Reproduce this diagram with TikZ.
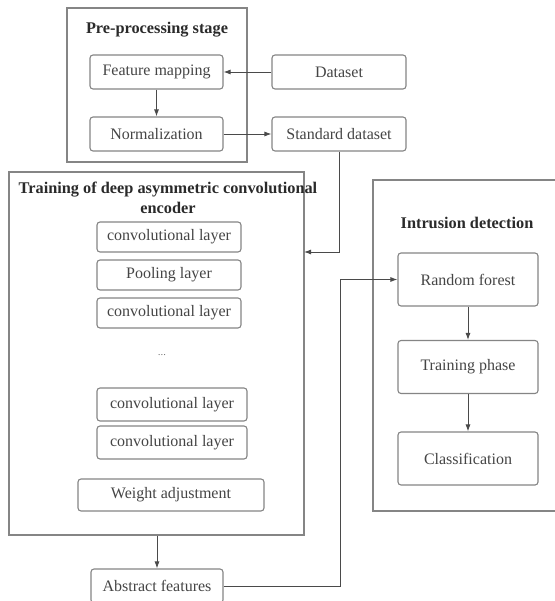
\documentclass[tikz,border=0pt]{standalone}
\usepackage{fontspec}
\setmainfont{Liberation Serif}
\usetikzlibrary{arrows.meta}
\definecolor{linegray}{HTML}{858585}
\definecolor{txtgray}{HTML}{454545}
\definecolor{ttlgray}{HTML}{2A2A2A}
\definecolor{arrgray}{HTML}{4A4A4A}
\begin{document}
\begin{tikzpicture}[x=1pt,y=-1pt,
  box/.style={draw=linegray, line width=1.1pt, rounded corners=3pt, inner sep=0pt,
    text=txtgray, font=\fontsize{16}{19}\selectfont},
  frame/.style={draw=linegray, line width=1.1pt, inner sep=0pt},
  ttl/.style={font=\fontsize{16.3}{20}\selectfont\bfseries, text=ttlgray, inner sep=0pt, align=center},
  conn/.style={draw=arrgray, line width=0.9pt},
  arr/.style={conn, -{Latex[length=7pt,width=5pt]}}]
\useasboundingbox (0,0) rectangle (554,601);
\fill[white] (0,0) rectangle (554,601);

% frames
\node[frame, minimum width=180, minimum height=154] (pre) at (157,85) {};
\node[frame, minimum width=295, minimum height=363] (train) at (156.5,353.5) {};
\node[frame, minimum width=190, minimum height=331] (intr) at (468,345.5) {};

% titles
\node[ttl] (pret) at (157,30) {Pre-processing stage};
\node[ttl] (trt) at (168,198) {Training of deep asymmetric convolutional\\encoder};
\node[ttl] (idt) at (467,223) {Intrusion detection};

% pre-processing
\node[box, minimum width=133, minimum height=34] (fm) at (156.5,72) {Feature mapping};
\node[box, minimum width=133, minimum height=34] (norm) at (156.5,134) {Normalization};
\node[box, minimum width=134, minimum height=34] (ds) at (339,72) {Dataset};
\node[box, minimum width=134, minimum height=34] (std) at (339,134) {Standard dataset};

% training
\node[box, minimum width=144, minimum height=30] (c1) at (169,237) {convolutional layer};
\node[box, minimum width=144, minimum height=30] (pool) at (169,275) {Pooling layer};
\node[box, minimum width=144, minimum height=30] (c2) at (169,313) {convolutional layer};
\node[text=txtgray, inner sep=0pt, font=\fontsize{9}{10}\selectfont] (dots) at (162,355) {.\hspace{0.5pt}.\hspace{0.5pt}.};
\node[box, minimum width=150, minimum height=33] (c3) at (172,404.5) {convolutional layer};
\node[box, minimum width=150, minimum height=33] (c4) at (172,442.5) {convolutional layer};
\node[box, minimum width=186, minimum height=32] (wa) at (171,495) {Weight adjustment};

\node[box, minimum width=132, minimum height=34] (abs) at (157,586) {Abstract features};

% intrusion detection
\node[box, minimum width=140, minimum height=53] (rf) at (468,279.5) {Random forest};
\node[box, minimum width=140, minimum height=53] (tp) at (468,367) {Training phase};
\node[box, minimum width=140, minimum height=53] (cls) at (468,458.5) {Classification};

% connectors
\coordinate (tin) at (304,252);
\coordinate (k) at (340,0);
\draw[arr] (ds) -- (fm);
\draw[arr] (fm) -- (norm);
\draw[arr] (norm) -- (std);
\draw[arr] (std.south) |- (tin);
\draw[arr] (abs.north |- train.south) -- (abs.north);
\draw[arr] (abs.east) -| (k |- rf.west) -- (rf.west);
\draw[arr] (rf) -- (tp);
\draw[arr] (tp) -- (cls);
\end{tikzpicture}
\end{document}
